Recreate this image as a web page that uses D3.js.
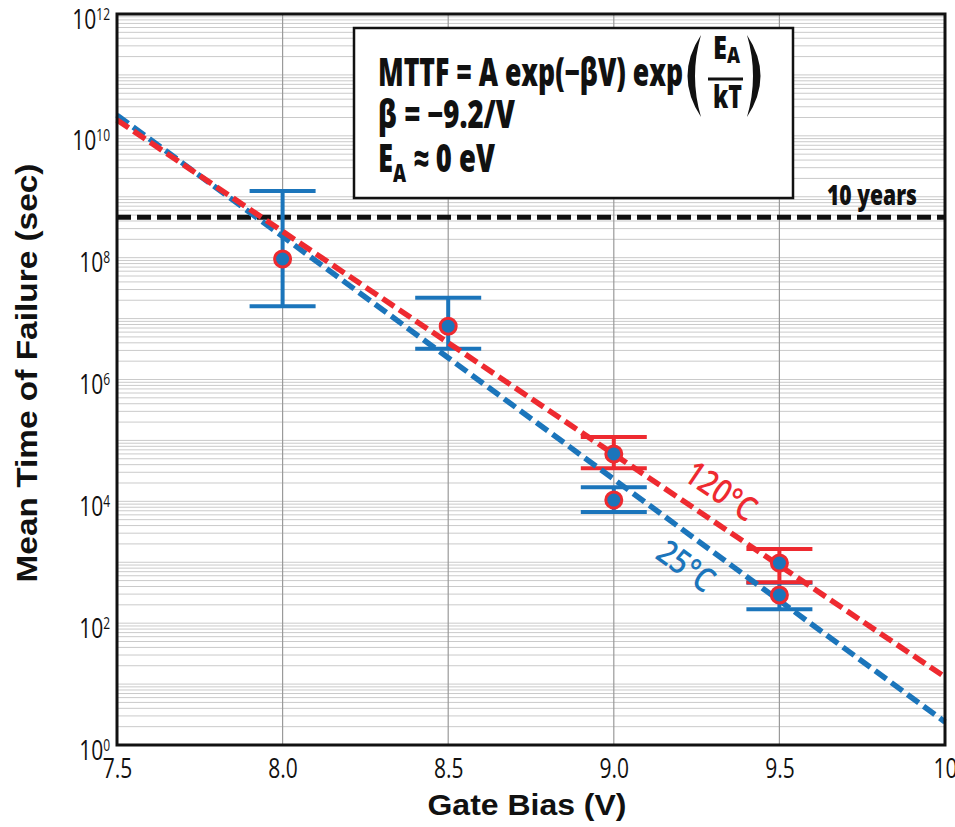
<!DOCTYPE html>
<html>
<head>
<meta charset="utf-8">
<script src="https://cdn.jsdelivr.net/npm/d3@7"></script>
<style>
  body { margin: 0; background: #fff; }
  svg { display: block; }
</style>
</head>
<body>
<script>
// measured MTTF (sec) vs gate bias (V)
var voltage25 = [8.0, 8.5, 9.0, 9.5];
var mttf25 = [9.5e7, 7.5e6, 1.05e4, 2.9e2];
var hi25 = [1.24e9, 2.2e7, 1.7e4, 4.6e2];
var lo25 = [1.6e7, 3.2e6, 6.7e3, 1.7e2];

var voltage120 = [9.0, 9.5];
var mttf120 = [6.0e4, 9.7e2];
var hi120 = [1.14e5, 1.65e3];
var lo120 = [3.5e4, 4.7e2];

// fit lines (end points)
var fitV = [7.5, 10];
var fit120 = [1.82e10, 13.1];
var fit25 = [2.19e10, 2.39];

var tenYears = 4.6e8;

var xTicks = [7.5, 8.0, 8.5, 9.0, 9.5, 10];
var xTickLabels = ["7.5", "8.0", "8.5", "9.0", "9.5", "10"];
var yTickExp = [0, 2, 4, 6, 8, 10, 12];

var width = 955, height = 827;
var pLeft = 117, pRight = 945, pTop = 14, pBottom = 745;
var red = "#ee2a30", blue = "#1b75bb";
var narrow = "'Open Sans', 'DejaVu Sans', sans-serif";
var arial = "'Liberation Sans', Arial, sans-serif";

var x = d3.scaleLinear().domain([7.5, 10]).range([pLeft, pRight]);
var y = d3.scaleLog().domain([1, 1e12]).range([pBottom, pTop]);

var svg = d3.select("body").append("svg")
  .attr("width", width)
  .attr("height", height);

// minor log grid
var gridVals = [];
for (var e = 0; e < 12; e++) {
  for (var m = 1; m <= 9; m++) {
    if (e == 0 && m == 1) continue;
    gridVals.push(m * Math.pow(10, e));
  }
}
svg.append("g").selectAll("line")
  .data(gridVals)
  .enter().append("line")
  .attr("x1", pLeft).attr("x2", pRight)
  .attr("y1", function(d) { return y(d); })
  .attr("y2", function(d) { return y(d); })
  .attr("stroke", "#cacaca")
  .attr("stroke-width", 1);

svg.append("g").selectAll("line")
  .data([8.0, 8.5, 9.0, 9.5])
  .enter().append("line")
  .attr("x1", function(d) { return x(d); })
  .attr("x2", function(d) { return x(d); })
  .attr("y1", pTop).attr("y2", pBottom)
  .attr("stroke", "#9a9a9a")
  .attr("stroke-width", 1.2);

// 10 years line
svg.append("line")
  .attr("x1", pLeft).attr("x2", pRight)
  .attr("y1", y(tenYears)).attr("y2", y(tenYears))
  .attr("stroke", "#111")
  .attr("stroke-width", 5)
  .attr("stroke-dasharray", "14,6");

// error bars
function errorBars(vs, hi, lo, color) {
  var g = svg.append("g").attr("stroke", color).attr("stroke-width", 4);
  g.selectAll(".v").data(vs).enter().append("line")
    .attr("x1", function(d) { return x(d); })
    .attr("x2", function(d) { return x(d); })
    .attr("y1", function(d, i) { return y(hi[i]); })
    .attr("y2", function(d, i) { return y(lo[i]); });
  [hi, lo].forEach(function(arr) {
    g.selectAll(null).data(vs).enter().append("line")
      .attr("x1", function(d) { return x(d) - 33; })
      .attr("x2", function(d) { return x(d) + 33; })
      .attr("y1", function(d, i) { return y(arr[i]); })
      .attr("y2", function(d, i) { return y(arr[i]); });
  });
}
errorBars(voltage25, hi25, lo25, blue);
errorBars(voltage120, hi120, lo120, red);

// fit lines
var line = d3.line()
  .x(function(d) { return x(d[0]); })
  .y(function(d) { return y(d[1]); });

svg.append("path")
  .datum(d3.zip(fitV, fit25))
  .attr("d", line)
  .attr("fill", "none")
  .attr("stroke", blue)
  .attr("stroke-width", 5.5)
  .attr("stroke-dasharray", "14,6");
svg.append("path")
  .datum(d3.zip(fitV, fit120))
  .attr("d", line)
  .attr("fill", "none")
  .attr("stroke", red)
  .attr("stroke-width", 5.5)
  .attr("stroke-dasharray", "14,6");

// markers
svg.append("g").selectAll("circle")
  .data(d3.zip(voltage25, mttf25).concat(d3.zip(voltage120, mttf120)))
  .enter().append("circle")
  .attr("cx", function(d) { return x(d[0]); })
  .attr("cy", function(d) { return y(d[1]); })
  .attr("r", 8)
  .attr("fill", blue)
  .attr("stroke", red)
  .attr("stroke-width", 3);

// frame
svg.append("rect")
  .attr("x", pLeft).attr("y", pTop)
  .attr("width", pRight - pLeft).attr("height", pBottom - pTop)
  .attr("fill", "none")
  .attr("stroke", "#111")
  .attr("stroke-width", 3);

// x axis
var xAxis = svg.append("g")
  .attr("transform", "translate(0," + pBottom + ")")
  .call(d3.axisBottom(x).tickValues(xTicks)
    .tickFormat(function(d, i) { return xTickLabels[i]; })
    .tickSize(0));
xAxis.select(".domain").remove();
xAxis.selectAll("text")
  .attr("dy", null)
  .attr("y", 33)
  .attr("transform", "scale(0.75,1)")
  .attr("fill", "#111")
  .attr("font-family", narrow)
  .attr("font-size", "28px");

// y axis
var yAxis = svg.append("g")
  .attr("transform", "translate(" + pLeft + ",0)")
  .call(d3.axisLeft(y).tickValues(yTickExp.map(function(e) { return Math.pow(10, e); }))
    .tickFormat("")
    .tickSize(0));
yAxis.select(".domain").remove();
yAxis.selectAll(".tick text")
  .attr("dy", null)
  .attr("y", 14)
  .attr("x", -7 / 0.75)
  .attr("transform", "scale(0.75,1)")
  .attr("fill", "#111")
  .attr("font-family", narrow)
  .attr("font-size", "28px")
  .each(function(d, i) {
    var t = d3.select(this);
    t.append("tspan").text("10");
    t.append("tspan").attr("font-size", "16px").attr("dy", -9).text(yTickExp[i]);
  });

// axis titles
svg.append("text")
  .attr("transform", "translate(37,373) rotate(-90)")
  .attr("text-anchor", "middle")
  .attr("font-family", arial)
  .attr("font-weight", "bold")
  .attr("font-size", "30px")
  .attr("textLength", 419)
  .attr("lengthAdjust", "spacingAndGlyphs")
  .attr("fill", "#111")
  .text("Mean Time of Failure (sec)");

svg.append("text")
  .attr("x", 527).attr("y", 815)
  .attr("text-anchor", "middle")
  .attr("font-family", arial)
  .attr("font-weight", "bold")
  .attr("font-size", "30px")
  .attr("textLength", 199)
  .attr("lengthAdjust", "spacingAndGlyphs")
  .attr("fill", "#111")
  .text("Gate Bias (V)");

// equation box
svg.append("rect")
  .attr("x", 354).attr("y", 28)
  .attr("width", 439).attr("height", 170)
  .attr("fill", "#fff")
  .attr("stroke", "#111")
  .attr("stroke-width", 2.5);

function boldText(xp, yp, size, len) {
  return svg.append("text")
    .attr("x", xp).attr("y", yp)
    .attr("font-family", narrow)
    .attr("font-weight", 800)
    .attr("font-size", size + "px")
    .attr("textLength", len)
    .attr("lengthAdjust", "spacingAndGlyphs")
    .attr("fill", "#111");
}

boldText(378, 86, 38, 305).text("MTTF = A exp(\u2212\u03b2V) exp");
// parentheses + fraction
svg.append("path")
  .attr("d", "M701,35 Q674,76 701,117 Q689,76 701,35 Z")
  .attr("fill", "#111");
svg.append("path")
  .attr("d", "M747,35 Q774,76 747,117 Q759,76 747,35 Z")
  .attr("fill", "#111");
var ea = boldText(713, 59, 31, 27);
ea.append("tspan").text("E");
ea.append("tspan").attr("font-size", "22px").attr("dy", 4).text("A");
svg.append("line")
  .attr("x1", 708).attr("x2", 743)
  .attr("y1", 79).attr("y2", 79)
  .attr("stroke", "#111").attr("stroke-width", 3);
boldText(713, 108, 31, 29).text("kT");

boldText(378, 128, 38, 137).text("\u03b2 = \u22129.2/V");
var l3 = boldText(378, 172, 38, 117);
l3.append("tspan").text("E");
l3.append("tspan").attr("font-size", "25px").attr("dy", 10).text("A");
l3.append("tspan").attr("dy", -10).text(" \u2248 0 eV");

boldText(827, 205, 29, 90).text("10 years");

// temperature labels
svg.append("text")
  .attr("transform", "translate(721,491) rotate(34)")
  .attr("text-anchor", "middle")
  .attr("dy", "0.35em")
  .attr("font-family", narrow)
  .attr("font-weight", 600)
  .attr("font-size", "34px")
  .attr("textLength", 78)
  .attr("lengthAdjust", "spacingAndGlyphs")
  .attr("fill", red)
  .text("120\u00b0C");

svg.append("text")
  .attr("transform", "translate(686,566) rotate(36)")
  .attr("text-anchor", "middle")
  .attr("dy", "0.35em")
  .attr("font-family", narrow)
  .attr("font-weight", 600)
  .attr("font-size", "34px")
  .attr("textLength", 62)
  .attr("lengthAdjust", "spacingAndGlyphs")
  .attr("fill", blue)
  .text("25\u00b0C");
</script>
</body>
</html>
